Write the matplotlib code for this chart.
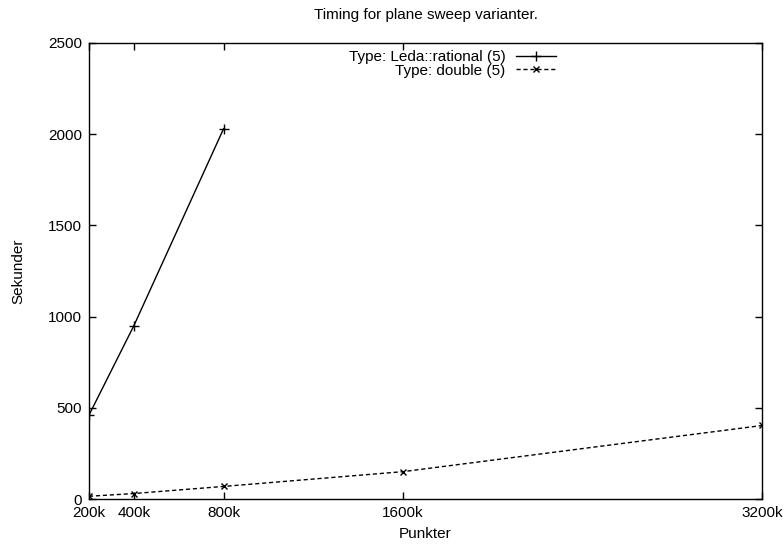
import matplotlib
matplotlib.use("Agg")
import matplotlib.pyplot as plt

# Running times (seconds) for the plane sweep variants
points_k = [200, 400, 800, 1600, 3200]
tick_labels = ["200k", "400k", "800k", "1600k", "3200k"]

rational_x = [200, 400, 800]
rational_sec = [460, 950, 2030]

double_x = [200, 400, 800, 1600, 3200]
double_sec = [15, 30, 69, 150, 403]

plt.rcParams['font.family'] = ['Liberation Sans', 'DejaVu Sans']
plt.rcParams['font.size'] = 11

fig = plt.figure(figsize=(7.84, 5.44), dpi=100)
ax = fig.add_axes([0.1135, 0.0827, 0.8585, 0.8383])

ax.plot(rational_x, rational_sec, color='black', linewidth=1.0,
        marker='+', markersize=7, markeredgewidth=1.0,
        label='Type: Leda::rational (5)')
ax.plot(double_x, double_sec, color='black', linewidth=1.0, linestyle=(0, (3, 2)),
        marker='x', markersize=5, markeredgewidth=1.0,
        label='Type: double (5)')

ax.set_xlim(200, 3200)
ax.set_ylim(0, 2500)
ax.set_xticks(points_k)
ax.set_xticklabels(tick_labels)
ax.set_yticks(range(0, 2501, 500))
ax.tick_params(direction='in', top=True, right=True, length=5, width=1.0, pad=5)
for s in ax.spines.values():
    s.set_linewidth(1.0)

ax.set_title('Timing for plane sweep varianter.', fontsize=11, pad=17)
ax.set_xlabel('Punkter', labelpad=5)
ax.set_ylabel('Sekunder', labelpad=16)

ax.legend(loc='upper right', bbox_to_anchor=(0.703, 0.997), frameon=False,
          markerfirst=False, handlelength=2.65, handletextpad=0.65,
          labelspacing=-0.05, borderaxespad=0.0, alignment='right')

fig.savefig('out.png', dpi=100)
